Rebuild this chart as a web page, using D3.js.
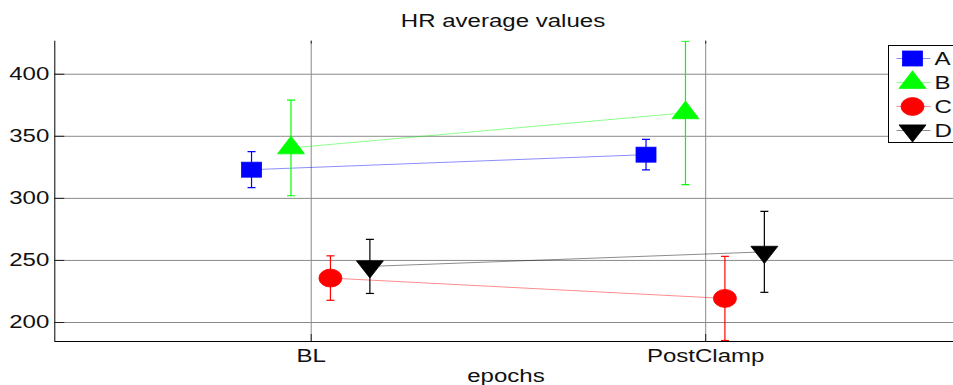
<!DOCTYPE html>
<html>
<head>
<meta charset="utf-8">
<script src="https://cdn.jsdelivr.net/npm/d3@7"></script>
<style>
  html, body { margin: 0; padding: 0; background: #fff; overflow: hidden; }
  svg { display: block; font-family: "Liberation Sans", Arial, Helvetica, sans-serif; }
</style>
</head>
<body>
<svg id="chart" width="953" height="385"></svg>
<script>
// Epochs on the x axis
const categories = ["BL", "PostClamp"];
// Group names
const seriesNames = ["A", "B", "C", "D"];
// Mean HR per group and epoch
const meansA = [322.7, 334.8];
const meansB = [340.2, 368.5];
const meansC = [235.4, 219.0];
const meansD = [244.8, 256.5];
// Error half-widths
const errA = [14.5, 12.3];
const errB = [38.5, 57.8];
const errC = [17.9, 33.9];
const errD = [21.8, 32.6];
// Y ticks
const yTicks = [200, 250, 300, 350, 400];
const colors = ["#0000ff", "#00ff00", "#ff0000", "#000000"];
const shapes = ["square", "up", "circle", "down"];
const offsets = [-0.15, -0.05, 0.05, 0.15];

const series = seriesNames.map((name, i) => ({
  name,
  color: colors[i],
  shape: shapes[i],
  offset: offsets[i],
  means: [meansA, meansB, meansC, meansD][i],
  errs: [errA, errB, errC, errD][i]
}));

const svg = d3.select("#chart");
const pLeft = 54.3, pRight = 961.6, pTop = 40.7, pBottom = 341;
const SX = 1.3;     // horizontal text/marker stretch
const FS = 18.5;

const x = d3.scaleLinear().domain([0.35, 2.65]).range([pLeft, pRight]);
const y = d3.scaleLinear().domain([184.7, 426.6]).range([pBottom, pTop]);

svg.append("defs").append("clipPath").attr("id", "plotclip")
  .append("rect").attr("x", pLeft).attr("y", pTop).attr("width", pRight - pLeft).attr("height", pBottom - pTop);

// Grid lines
const gridY = svg.append("g").attr("transform", `translate(${pLeft},0)`)
  .call(d3.axisLeft(y).tickValues(yTicks).tickSize(-(pRight - pLeft)).tickFormat(""));
gridY.select(".domain").remove();
gridY.selectAll("line").attr("stroke", "#8a8a8a").attr("stroke-width", 1);

const gridX = svg.append("g").attr("transform", `translate(0,${pBottom})`)
  .call(d3.axisBottom(x).tickValues([1, 2]).tickSize(-(pBottom - pTop)).tickFormat(""));
gridX.select(".domain").remove();
gridX.selectAll("line").attr("stroke", "#8a8a8a").attr("stroke-width", 1);

// Top tick stubs
const topTicks = svg.append("g").attr("transform", `translate(0,${pTop})`)
  .call(d3.axisTop(x).tickValues([1, 2]).tickSize(-3).tickFormat(""));
topTicks.select(".domain").remove();
topTicks.selectAll("line").attr("stroke", "#222");

// Y axis
const yAxis = svg.append("g").attr("transform", `translate(${pLeft},0)`)
  .call(d3.axisLeft(y).tickValues(yTicks).tickSize(-10).tickPadding(5).tickSizeOuter(0));
yAxis.select(".domain").attr("stroke", "#000").attr("d", `M0.5,${pTop}V${pBottom}`);
yAxis.selectAll(".tick line").attr("stroke", "#222");
yAxis.selectAll(".tick text")
  .attr("font-size", FS).attr("fill", "#111")
  .attr("x", -5 / SX).attr("transform", `scale(${SX},1)`);

// X axis
const xAxis = svg.append("g").attr("transform", `translate(0,${pBottom})`)
  .call(d3.axisBottom(x).tickValues([1, 2]).tickFormat(d => categories[d - 1]).tickSize(-7).tickPadding(8).tickSizeOuter(0));
xAxis.select(".domain").attr("stroke", "#000").attr("d", `M${pLeft},0.5H${953}`);
xAxis.selectAll(".tick line").attr("stroke", "#222");
xAxis.selectAll(".tick text")
  .attr("font-size", FS).attr("fill", "#111")
  .attr("transform", `scale(${SX},1)`);

// Title and axis label
svg.append("text").attr("transform", `translate(503,26.5) scale(${SX},1)`)
  .attr("text-anchor", "middle").attr("font-size", FS).attr("fill", "#111")
  .text("HR average values");
svg.append("text").attr("transform", `translate(506,382) scale(${SX},1)`)
  .attr("text-anchor", "middle").attr("font-size", FS).attr("fill", "#111")
  .text("epochs");

// Marker drawing
function drawMarker(g, shape, color, cx, cy) {
  const m = g.append("g").attr("transform", `translate(${cx},${cy})`);
  if (shape === "square") {
    m.append("rect").attr("x", -10).attr("y", -7.5).attr("width", 20).attr("height", 15)
      .attr("fill", color).attr("stroke", color).attr("stroke-width", 0.8);
  } else if (shape === "circle") {
    m.append("ellipse").attr("rx", 11.5).attr("ry", 9)
      .attr("fill", color).attr("stroke", color).attr("stroke-width", 0.8);
  } else if (shape === "up") {
    m.append("path").attr("d", "M0,-11.8L13.5,5.9L-13.5,5.9Z")
      .attr("fill", color).attr("stroke", color).attr("stroke-width", 0.8);
  } else {
    m.append("path").attr("d", "M0,11.6L13.5,-5.6L-13.5,-5.6Z")
      .attr("fill", color).attr("stroke", color).attr("stroke-width", 0.8);
  }
}

const plot = svg.append("g").attr("clip-path", "url(#plotclip)");

// Connecting lines
series.forEach(s => {
  const line = d3.line().x((d, i) => x(i + 1 + s.offset)).y(d => y(d));
  plot.append("path").datum(s.means).attr("d", line)
    .attr("fill", "none").attr("stroke", s.color).attr("stroke-width", 1).attr("stroke-opacity", 0.45);
});

// Error bars and markers
series.forEach(s => {
  const g = plot.append("g");
  s.means.forEach((m, i) => {
    const cx = x(i + 1 + s.offset);
    const y0 = y(m - s.errs[i]), y1 = y(m + s.errs[i]);
    g.append("line").attr("x1", cx).attr("x2", cx).attr("y1", y0).attr("y2", y1)
      .attr("stroke", s.color).attr("stroke-width", 1.2);
    [y0, y1].forEach(yy => {
      g.append("line").attr("x1", cx - 4).attr("x2", cx + 4).attr("y1", yy).attr("y2", yy)
        .attr("stroke", s.color).attr("stroke-width", 1.2);
    });
  });
  s.means.forEach((m, i) => drawMarker(g, s.shape, s.color, x(i + 1 + s.offset), y(m)));
});

// Legend
const legend = svg.append("g").attr("transform", "translate(888.5,45.5)");
legend.append("rect").attr("width", 90).attr("height", 97)
  .attr("fill", "#fff").attr("stroke", "#000").attr("stroke-width", 1);
series.forEach((s, i) => {
  const ly = 13 + i * 24;
  legend.append("line").attr("x1", 8).attr("x2", 42).attr("y1", ly).attr("y2", ly)
    .attr("stroke", s.color).attr("stroke-width", 1).attr("stroke-opacity", 0.45);
  drawMarker(legend, s.shape, s.color, 24, ly);
  legend.append("text").attr("transform", `translate(46,${ly}) scale(${SX},1)`)
    .attr("dy", "0.36em").attr("font-size", FS).attr("fill", "#111").text(s.name);
});
</script>
</body>
</html>
